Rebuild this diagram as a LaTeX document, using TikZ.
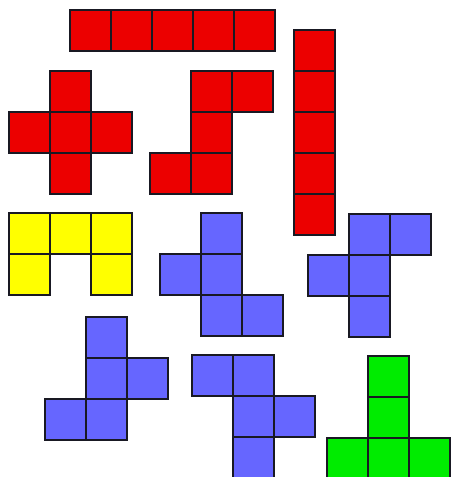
\documentclass[tikz,border=0pt]{standalone}
\usepackage{tikz}
\usetikzlibrary{
    positioning
}
\definecolor{PieceRed}{RGB}{236,0,0}
\definecolor{PieceYellow}{RGB}{255,255,0}
\definecolor{PieceBlue}{RGB}{102,102,255}
\definecolor{PieceGreen}{RGB}{0,236,0}
\definecolor{EdgeDark}{RGB}{25,25,35}

% one pentomino: name, colour, left, top, cells (column/row)
\newcommand{\pentomino}[5]{%
    \foreach \col/\row in {#5}
        \node[cell, fill=#2] (#1-\col-\row)
            at ({#3+41*\col+20.5},{#4+41*\row+20.5}) {};
}

\begin{document}
\begin{tikzpicture}[
    x=0.02cm,
    y=-0.02cm,
    cell/.style={
        draw=EdgeDark,
        line width=0.8pt,
        minimum size=0.82cm,
        inner sep=0pt,
        outer sep=0pt
    }
]

\useasboundingbox (0,0) rectangle (450,477);

% red pieces
\pentomino{bar}{PieceRed}{70}{10}{0/0,1/0,2/0,3/0,4/0}
\pentomino{column}{PieceRed}{294}{30}{0/0,0/1,0/2,0/3,0/4}
\pentomino{plus}{PieceRed}{9}{71}{1/0,0/1,1/1,2/1,1/2}
\pentomino{zig}{PieceRed}{150}{71}{1/0,2/0,1/1,0/2,1/2}

% yellow piece
\pentomino{cup}{PieceYellow}{9}{213}{0/0,1/0,2/0,0/1,2/1}

% blue pieces
\pentomino{twistA}{PieceBlue}{160}{213}{1/0,0/1,1/1,1/2,2/2}
\pentomino{twistB}{PieceBlue}{308}{214}{1/0,2/0,0/1,1/1,1/2}
\pentomino{twistC}{PieceBlue}{45}{317}{1/0,1/1,2/1,0/2,1/2}
\pentomino{twistD}{PieceBlue}{192}{355}{0/0,1/0,1/1,2/1,1/2}

% green piece
\pentomino{tee}{PieceGreen}{327}{356}{1/0,1/1,0/2,1/2,2/2}

\end{tikzpicture}
\end{document}
